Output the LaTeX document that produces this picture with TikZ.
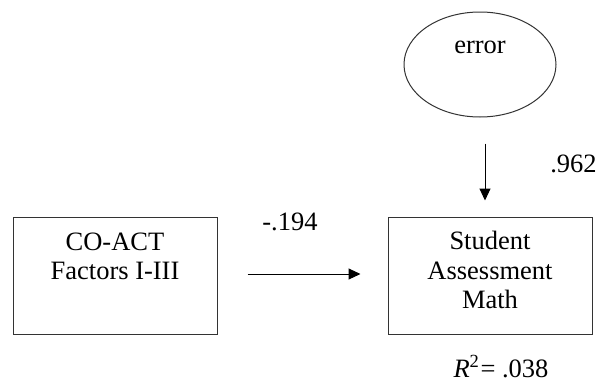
\documentclass[tikz,border=0pt]{standalone}
\usepackage{fontspec}
\setmainfont{Liberation Serif}
\usetikzlibrary{shapes.geometric,arrows.meta}
\begin{document}
\begin{tikzpicture}[x=1pt,y=-1pt,
  every node/.style={font=\fontsize{26.5}{29}\selectfont, text=black},
  boxnode/.style={draw=black!80, line width=1pt, minimum width=204pt, minimum height=117pt, inner sep=0pt},
  ellnode/.style={ellipse, draw=black!80, line width=1pt, minimum width=152pt, minimum height=105pt, inner sep=0pt},
  txt/.style={align=center, inner sep=0pt},
  arr/.style={line width=1pt, -{Triangle[length=12pt,width=11pt]}}]
\useasboundingbox (0,0) rectangle (598,389);
\node[boxnode] (left) at (115,275.5) {};
\node[boxnode] (right) at (490,275.5) {};
\node[ellnode] (err) at (480,64.5) {};
\node[txt, anchor=base] (errt) at (480,53) {error};
\node[txt, anchor=base] (l1) at (115,250) {CO-ACT};
\node[txt, anchor=base] (l2) at (115,279) {Factors I-III};
\node[txt, anchor=base] (r1) at (490,249) {Student};
\node[txt, anchor=base] (r2) at (490,279) {Assessment};
\node[txt, anchor=base] (r3) at (490,308) {Math};
\node[txt, anchor=base] (p1) at (290,230) {-.194};
\node[txt, anchor=base] (p2) at (573.5,172) {.962};
\node[txt, anchor=base] (rsq) at (501,377) {\textit{R}\textsuperscript{2}\kern1pt= .038};
\draw[arr] ([xshift=5pt,yshift=-26pt]err.south) -- ([xshift=-5pt,yshift=16pt]right.north);
\draw[arr] ([xshift=30pt,yshift=1.5pt]left.east) -- ([xshift=-27pt,yshift=1.5pt]right.west);
\end{tikzpicture}
\end{document}
